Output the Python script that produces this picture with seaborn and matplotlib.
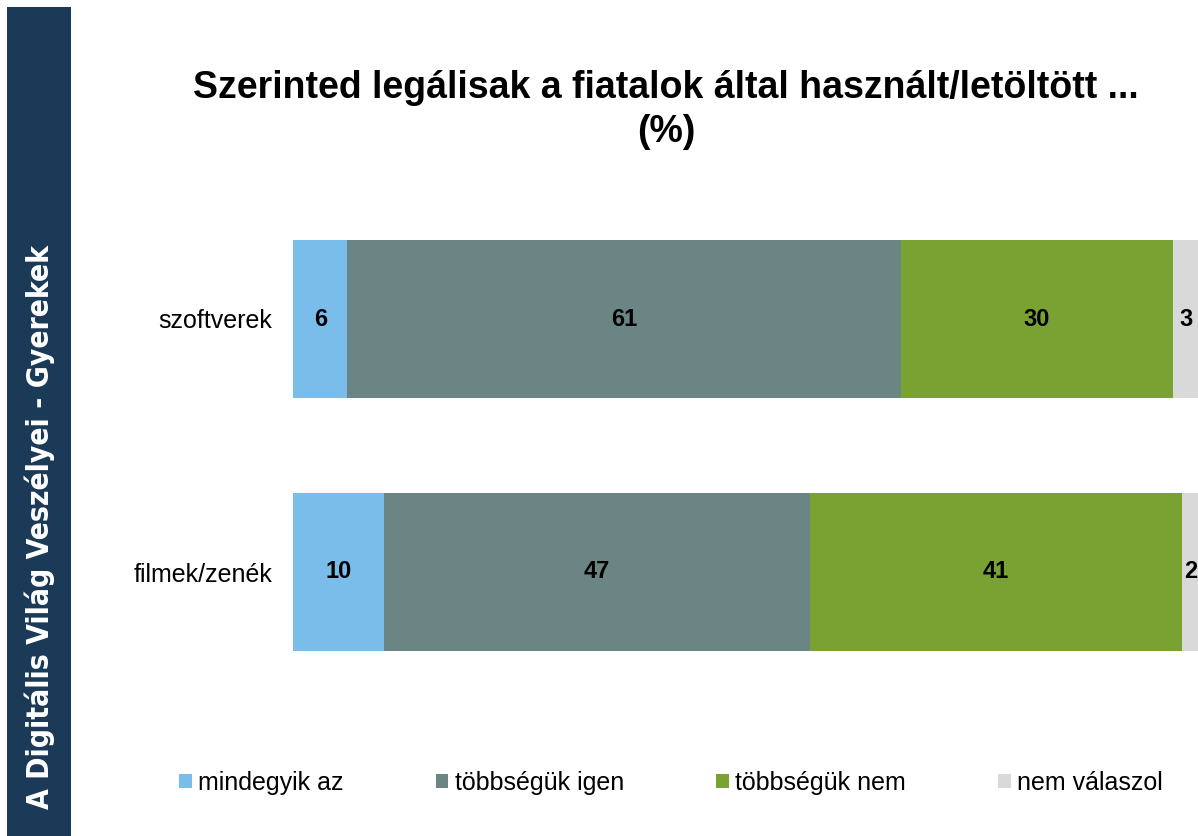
import matplotlib
matplotlib.use("Agg")
import matplotlib.pyplot as plt
import seaborn as sns
import pandas as pd
import numpy as np
from matplotlib.patches import Rectangle, Patch

sns.set_theme(style="white")
plt.rcParams['font.family'] = ['Liberation Sans', 'DejaVu Sans']

categories = ["szoftverek", "filmek/zenék"]
series = ["mindegyik az", "többségük igen", "többségük nem", "nem válaszol"]
mindegyik_az = [6, 10]
tobbseguk_igen = [61, 47]
tobbseguk_nem = [30, 41]
nem_valaszol = [3, 2]
colors = ["#7BBDEA", "#6B8584", "#7AA233", "#D9D9D9"]

title = "Szerinted legálisak a fiatalok által használt/letöltött ...\n(%)"
sidebar_text = "A Digitális Világ Veszélyei - Gyerekek"

values = np.array([mindegyik_az, tobbseguk_igen, tobbseguk_nem, nem_valaszol], dtype=float)
cum = np.cumsum(values, axis=0)

W, H = 1198, 836
fig = plt.figure(figsize=(W / 100, H / 100), dpi=100)
ax = fig.add_axes([293 / W, 1 - 698.5 / H, 907 / W, 506 / H])

# draw stacked bars: largest cumulative first so earlier segments overlay
for i in reversed(range(len(series))):
    df = pd.DataFrame({"cat": categories, "val": cum[i]})
    sns.barplot(data=df, y="cat", x="val", orient="h", color=colors[i],
                width=0.625, ax=ax, saturation=1, linewidth=0)

for j, cat in enumerate(categories):
    for i in range(len(series)):
        left = cum[i, j] - values[i, j]
        ax.text(left + values[i, j] / 2, j, f"{int(values[i, j])}",
                ha="center", va="center", fontsize=17, fontweight="bold", color="black")

ax.set_xlim(0, 100)
ax.set_ylim(1.5, -0.5)
ax.set_xlabel("")
ax.set_ylabel("")
ax.set_xticks([])
ax.tick_params(axis="y", length=0, pad=15, labelsize=18, labelcolor="black")
for s in ax.spines.values():
    s.set_visible(False)

handles = [Patch(facecolor=c, edgecolor="none") for c in colors]
fig.legend(handles, series, loc="center", bbox_to_anchor=(671 / W, 1 - 783 / H),
           ncol=4, frameon=False, fontsize=18, handlelength=0.5, handleheight=0.5,
           handletextpad=0.25, columnspacing=3.7, labelcolor="black")

fig.text(666 / W, 1 - 110 / H, title, ha="center", va="center", fontsize=27,
         fontweight="bold", color="black", linespacing=1.3)

fig.patches.append(Rectangle((7 / W, 0), 64 / W, (H - 7) / H, transform=fig.transFigure,
                             facecolor="#1B3A58", edgecolor="none", zorder=0))
fig.text(40 / W, 1 - 527 / H, sidebar_text, rotation=90, ha="center", va="center",
         fontsize=21.5, fontweight="bold", color="white",
         family=["DejaVu Sans"], fontstretch="condensed")

fig.savefig("out.png", dpi=100)
